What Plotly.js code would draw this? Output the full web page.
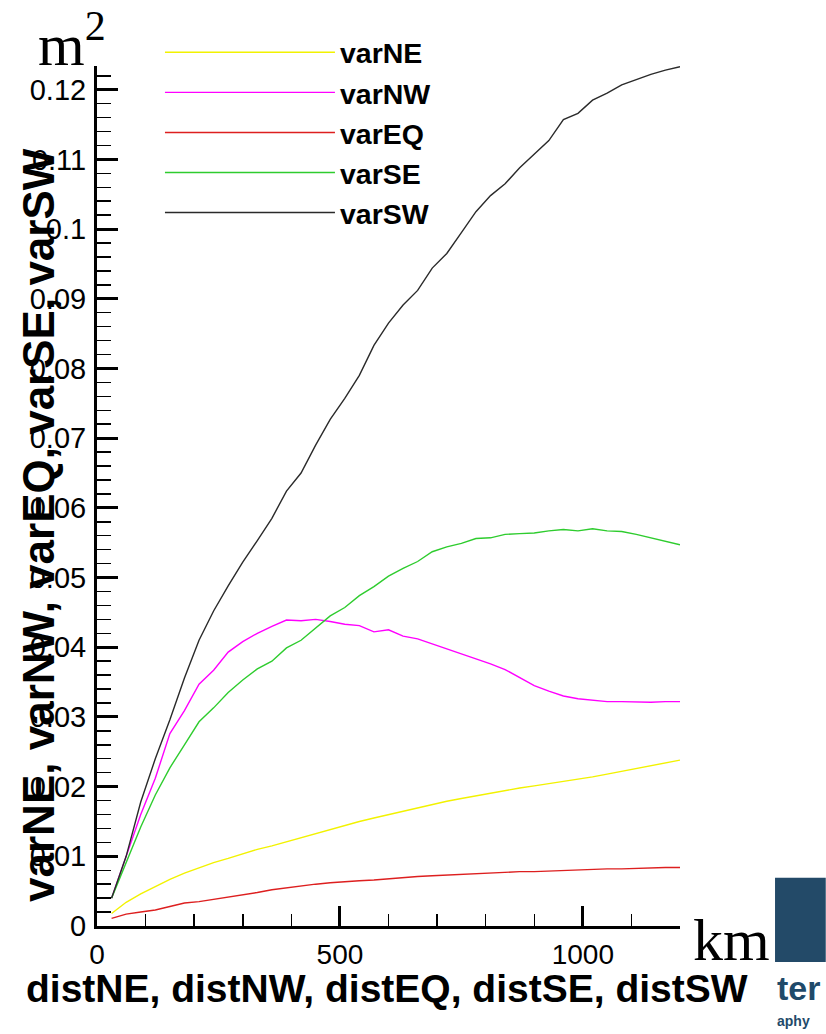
<!DOCTYPE html>
<html>
<head>
<meta charset="utf-8">
<script src="https://cdn.plot.ly/plotly-3.0.1.min.js"></script>
<style>
  html, body { margin: 0; padding: 0; background: #ffffff; }
  #chart { width: 826px; height: 1034px; }
</style>
</head>
<body>
<div id="chart"></div>
<script>
// Distance along each section (km)
const dist = [30, 60, 90, 120, 150, 180, 210, 240, 270, 300,
              330, 360, 390, 420, 450, 480, 510, 540, 570, 600,
              630, 660, 690, 720, 750, 780, 810, 840, 870, 900,
              930, 960, 990, 1020, 1050, 1080, 1110, 1140, 1170, 1200];

// Variance of each region (m^2)
const varNE = [0.0018, 0.0034, 0.0046, 0.0057, 0.0067, 0.0076, 0.0084, 0.0091, 0.0097, 0.0104,
               0.0110, 0.0115, 0.0121, 0.0127, 0.0133, 0.0139, 0.0145, 0.0150, 0.0155, 0.0160,
               0.0165, 0.0170, 0.0175, 0.0179, 0.0183, 0.0187, 0.0191, 0.0195, 0.0198, 0.0201,
               0.0204, 0.0207, 0.0210, 0.0214, 0.0218, 0.0222, 0.0226, 0.0230, 0.0234, 0.0238];

const varNW = [0.0040, 0.0100, 0.0160, 0.0212, 0.0276, 0.0309, 0.0347, 0.0367, 0.0393, 0.0408,
               0.0420, 0.0430, 0.0439, 0.0438, 0.0440, 0.0437, 0.0433, 0.0431, 0.0422, 0.0425,
               0.0416, 0.0412, 0.0405, 0.0398, 0.0391, 0.0384, 0.0376, 0.0368, 0.0357, 0.0345,
               0.0337, 0.0330, 0.0326, 0.0324, 0.0322, 0.0322, 0.0321, 0.0321, 0.0322, 0.0322];

const varEQ = [0.0011, 0.0017, 0.0020, 0.0023, 0.0028, 0.0033, 0.0035, 0.0038, 0.0042, 0.0045,
               0.0048, 0.0052, 0.0055, 0.0058, 0.0060, 0.0062, 0.0064, 0.0065, 0.0066, 0.0068,
               0.0069, 0.0071, 0.0072, 0.0073, 0.0074, 0.0076, 0.0076, 0.0077, 0.0078, 0.0078,
               0.0079, 0.0080, 0.0080, 0.0081, 0.0082, 0.0082, 0.0083, 0.0083, 0.0084, 0.0084];

const varSE = [0.0040, 0.0090, 0.0142, 0.0188, 0.0227, 0.0260, 0.0293, 0.0313, 0.0335, 0.0353,
               0.0369, 0.0380, 0.0399, 0.0410, 0.0427, 0.0445, 0.0457, 0.0474, 0.0487, 0.0502,
               0.0513, 0.0523, 0.0537, 0.0544, 0.0549, 0.0556, 0.0557, 0.0562, 0.0563, 0.0564,
               0.0567, 0.0569, 0.0567, 0.0570, 0.0567, 0.0566, 0.0562, 0.0557, 0.0553, 0.0547];

const varSW = [0.0040, 0.0100, 0.0178, 0.0240, 0.0296, 0.0356, 0.0410, 0.0452, 0.0488, 0.0522,
               0.0553, 0.0585, 0.0624, 0.0650, 0.0690, 0.0727, 0.0757, 0.0790, 0.0833, 0.0865,
               0.0891, 0.0912, 0.0944, 0.0965, 0.0995, 0.1025, 0.1048, 0.1065, 0.1088, 0.1107,
               0.1127, 0.1157, 0.1166, 0.1185, 0.1195, 0.1207, 0.1215, 0.1222, 0.1228, 0.1233];

const seriesNames  = ['varNE', 'varNW', 'varEQ', 'varSE', 'varSW'];
const seriesValues = [varNE, varNW, varEQ, varSE, varSW];
const seriesColors = ['#f2f200', '#ff00ff', '#dd1f1f', '#2ecc2e', '#2a2a2a'];

const traces = seriesNames.map((name, i) => ({
  type: 'scatter',
  mode: 'lines',
  name: name,
  x: dist,
  y: seriesValues[i],
  line: { color: seriesColors[i], width: 1.4 }
}));

const sans = 'Liberation Sans, Arial, sans-serif';
const serif = 'Liberation Serif, Times New Roman, serif';

const layout = {
  width: 826,
  height: 1034,
  margin: { l: 97, r: 146, t: 66, b: 108 },
  paper_bgcolor: '#ffffff',
  plot_bgcolor: '#ffffff',
  showlegend: true,
  legend: {
    x: 0.108, y: 1.045, xanchor: 'left', yanchor: 'top',
    bgcolor: 'rgba(0,0,0,0)',
    font: { family: sans, size: 28.5, color: '#000000', weight: 'bold' },
    itemwidth: 170,
    tracegroupgap: 0
  },
  xaxis: {
    range: [0, 1200],
    showgrid: false, zeroline: false,
    showline: true, linecolor: '#000000', linewidth: 3,
    ticks: 'inside', ticklen: 20, tickwidth: 3, tickcolor: '#000000',
    tickvals: [0, 500, 1000],
    ticktext: ['0', '500', '1000'],
    minor: { dtick: 100, ticks: 'inside', ticklen: 12, tickwidth: 1.5, tickcolor: '#000000' },
    tickfont: { family: sans, size: 28, color: '#000000' },
    ticklabelstandoff: 1
  },
  yaxis: {
    range: [0, 0.1234],
    showgrid: false, zeroline: false,
    showline: true, linecolor: '#000000', linewidth: 3,
    ticks: 'inside', ticklen: 21, tickwidth: 3, tickcolor: '#000000',
    dtick: 0.01, tick0: 0,
    minor: { dtick: 0.002, ticks: 'inside', ticklen: 14, tickwidth: 1.5, tickcolor: '#000000' },
    tickfont: { family: sans, size: 29, color: '#000000' },
    ticklabelstandoff: 2
  },
  annotations: [
    {
      text: 'varNE, varNW, varEQ, varSE, varSW',
      xref: 'paper', yref: 'paper', x: -0.1, y: 0.466,
      xanchor: 'center', yanchor: 'middle', textangle: -90, showarrow: false,
      font: { family: sans, size: 44, color: '#000000', weight: 'bold' }
    },
    {
      text: 'distNE, distNW, distEQ, distSE, distSW',
      xref: 'paper', yref: 'paper', x: 0.497, y: -0.073,
      xanchor: 'center', yanchor: 'middle', showarrow: false,
      font: { family: sans, size: 39, color: '#000000', weight: 'bold' }
    },
    {
      text: 'm<sup>2</sup>',
      xref: 'paper', yref: 'paper', x: -0.104, y: 1.03,
      xanchor: 'left', yanchor: 'middle', showarrow: false,
      font: { family: serif, size: 60, color: '#000000' }
    },
    {
      text: 'km',
      xref: 'paper', yref: 'paper', x: 1.089, y: -0.016,
      xanchor: 'center', yanchor: 'middle', showarrow: false,
      font: { family: serif, size: 60, color: '#000000' }
    },
    {
      text: 'ter',
      xref: 'paper', yref: 'paper', x: 1.163, y: -0.072,
      xanchor: 'left', yanchor: 'middle', showarrow: false,
      font: { family: sans, size: 34, color: '#1f4a6a', weight: 'bold' }
    },
    {
      text: 'aphy',
      xref: 'paper', yref: 'paper', x: 1.163, y: -0.11,
      xanchor: 'left', yanchor: 'middle', showarrow: false,
      font: { family: sans, size: 14, color: '#1f4a6a', weight: 'bold' }
    }
  ],
  shapes: [
    {
      type: 'rect', xref: 'paper', yref: 'paper',
      x0: 1.163, x1: 1.25, y0: -0.042, y1: 0.056,
      fillcolor: '#234a68', line: { width: 0 }
    }
  ]
};

Plotly.newPlot('chart', traces, layout, { displayModeBar: false, staticPlot: true });
</script>
</body>
</html>
